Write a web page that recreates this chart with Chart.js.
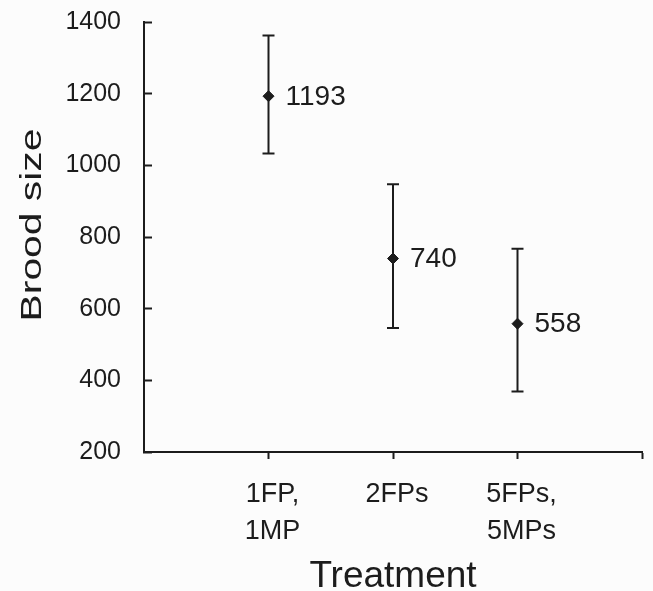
<!DOCTYPE html>
<html>
<head>
<meta charset="utf-8">
<script src="https://cdn.jsdelivr.net/npm/chart.js@4"></script>
<style>
  html, body { margin: 0; padding: 0; background: #fcfcfc; }
  #wrap { width: 653px; height: 591px; }
</style>
</head>
<body>
<div id="wrap"><canvas id="brood-chart"></canvas></div>
<script>
// values
const categories = [["1FP,", "1MP"], "2FPs", ["5FPs,", "5MPs"]];
const broodMeans = [1193, 740, 558];
const errLow = [1033, 546, 369];
const errHigh = [1362, 947, 767];
const yTickValues = [200, 400, 600, 800, 1000, 1200, 1400];
const yTitle = "Brood size";

const ink = "#1c1c1c";
const font = "'Liberation Sans', Arial, sans-serif";

// error bars and the value next to each point
const errorBars = {
  id: "errorBars",
  afterDatasetsDraw(chart) {
    const { ctx, scales } = chart;
    ctx.save();
    ctx.strokeStyle = ink;
    ctx.lineWidth = 2;
    broodMeans.forEach((m, i) => {
      const x = scales.x.getPixelForValue(i);
      const yTop = scales.y.getPixelForValue(errHigh[i]);
      const yBot = scales.y.getPixelForValue(errLow[i]);
      ctx.beginPath();
      ctx.moveTo(x, yTop);
      ctx.lineTo(x, yBot);
      ctx.moveTo(x - 6, yTop);
      ctx.lineTo(x + 6, yTop);
      ctx.moveTo(x - 6, yBot);
      ctx.lineTo(x + 6, yBot);
      ctx.stroke();

      ctx.fillStyle = ink;
      ctx.font = "28px " + font;
      ctx.textAlign = "left";
      ctx.textBaseline = "middle";
      ctx.fillText(String(m), x + 17, scales.y.getPixelForValue(m) + 1);
    });
    ctx.restore();
  },
};

// the y title in the original is drawn stretched along its length
const stretchedYTitle = {
  id: "stretchedYTitle",
  afterDraw(chart) {
    const { ctx, chartArea } = chart;
    ctx.save();
    ctx.translate(33, (chartArea.top + chartArea.bottom) / 2 - 12);
    ctx.rotate(-Math.PI / 2);
    ctx.scale(1.36, 1);
    ctx.fillStyle = ink;
    ctx.font = "30px " + font;
    ctx.textAlign = "center";
    ctx.textBaseline = "middle";
    ctx.fillText(yTitle, 0, 0);
    ctx.restore();
  },
};

new Chart(document.getElementById("brood-chart"), {
  type: "scatter",
  data: {
    datasets: [
      {
        label: yTitle,
        data: broodMeans.map((v, i) => ({ x: i, y: v })),
        pointStyle: "rectRot",
        pointRadius: 5.5,
        backgroundColor: ink,
        borderColor: ink,
        borderWidth: 1,
      },
    ],
  },
  options: {
    responsive: true,
    maintainAspectRatio: false,
    animation: false,
    layout: { padding: { top: 0, right: 11, left: 0, bottom: 0 } },
    plugins: {
      legend: { display: false },
      tooltip: { enabled: false },
    },
    scales: {
      x: {
        type: "linear",
        min: -1,
        max: 3,
        afterBuildTicks: (scale) => {
          scale.ticks = [0, 1, 2, 3].map((v) => ({ value: v }));
        },
        afterFit: (scale) => {
          scale.height = 139;
          scale.paddingLeft = 0;
          scale.paddingRight = 0;
        },
        ticks: {
          color: ink,
          font: { family: font, size: 27, lineHeight: 1.37 },
          padding: 17,
          labelOffset: 4,
          maxRotation: 0,
          autoSkip: false,
          callback: (value) => categories[value] || "",
        },
        grid: {
          drawOnChartArea: false,
          drawTicks: true,
          tickLength: 7,
          tickWidth: 2,
          tickColor: ink,
        },
        border: { display: true, color: ink, width: 2 },
        title: {
          display: true,
          text: "Treatment",
          color: ink,
          font: { family: font, size: 37, lineHeight: 0.75 },
          padding: { top: 0, bottom: 0 },
        },
      },
      y: {
        min: 200,
        max: 1400,
        afterBuildTicks: (scale) => {
          scale.ticks = yTickValues.map((v) => ({ value: v }));
        },
        afterFit: (scale) => {
          scale.width = 144;
          scale.paddingTop = 22;
        },
        ticks: {
          color: ink,
          font: { family: font, size: 25 },
          padding: 31,
          callback: (value) => String(value),
        },
        grid: {
          drawOnChartArea: false,
          drawTicks: true,
          tickLength: -8,
          tickWidth: 2,
          tickColor: ink,
        },
        border: { display: true, color: ink, width: 2 },
      },
    },
  },
  plugins: [errorBars, stretchedYTitle],
});
</script>
</body>
</html>
